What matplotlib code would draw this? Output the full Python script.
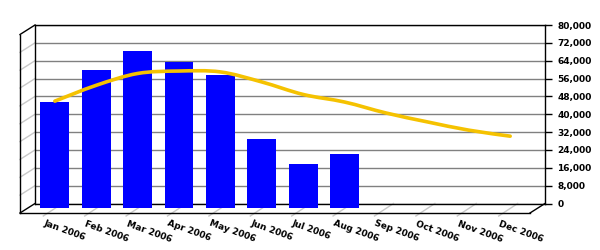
import numpy as np
import matplotlib
matplotlib.use("Agg")
import matplotlib.pyplot as plt
from matplotlib.path import Path
from matplotlib.patches import PathPatch, Polygon
from matplotlib.lines import Line2D
from matplotlib.transforms import ScaledTranslation, IdentityTransform

months = ['Jan 2006', 'Feb 2006', 'Mar 2006', 'Apr 2006', 'May 2006', 'Jun 2006',
          'Jul 2006', 'Aug 2006', 'Sep 2006', 'Oct 2006', 'Nov 2006', 'Dec 2006']
bar_values = [47600, 61800, 70400, 65400, 59600, 30900, 19700, 24200]
line_values = [48000, 55100, 60400, 61500, 61100, 56600,
               51000, 47600, 42700, 38700, 35000, 32300]
y_ticks = list(range(0, 80001, 8000))

DPI = 100
DEPTH = (-15, -9.5)   # 3d depth, pixels
MID = (DEPTH[0] / 2, DEPTH[1] / 2)

fig = plt.figure(figsize=(6, 2.5), dpi=DPI)
ax = fig.add_axes([35 / 600, (250 - 203.5) / 250, 510 / 600, 178.5 / 250])
ax.set_xlim(-0.66, 11.66)
ax.set_ylim(0, 80000)
ax.set_facecolor('white')


def shift(dx, dy):
    return ScaledTranslation(dx / DPI, dy / DPI, fig.dpi_scale_trans)


# back plane grid and right axis
ax.set_yticks(y_ticks)
ax.set_yticklabels(['{:,}'.format(v) for v in y_ticks])
ax.yaxis.tick_right()
ax.tick_params(axis='y', length=5, width=1, pad=4, labelsize=6.5, colors='black')
for t in ax.get_yticklabels():
    t.set_fontweight('bold')
ax.set_xticks([])
ax.grid(axis='y', color='#808080', linewidth=1)
ax.set_axisbelow(True)
for s in ax.spines.values():
    s.set_color('black')
    s.set_linewidth(1)


def disp(x, y, off=(0, 0), trans=None):
    trans = trans or ax.transData
    px, py = trans.transform((x, y))
    return px + off[0], py + off[1]


def seg(a, b, color, z):
    ax.add_line(Line2D([a[0], b[0]], [a[1], b[1]], color=color, lw=1,
                       transform=IdentityTransform(), clip_on=False, zorder=z))


# left wall
wall = Polygon([disp(0, 1, trans=ax.transAxes), disp(0, 0, trans=ax.transAxes),
                disp(0, 0, DEPTH, ax.transAxes), disp(0, 1, DEPTH, ax.transAxes)],
               closed=True, facecolor='white', edgecolor='none',
               transform=IdentityTransform(), clip_on=False, zorder=0.5)
ax.add_patch(wall)
x0 = ax.get_xlim()[0]
for v in y_ticks[1:-1]:
    seg(disp(x0, v), disp(x0, v, DEPTH), '#C8C8C8', 1)

# floor ticks
for i in range(len(months)):
    seg(disp(i, 0), disp(i, 0, (DEPTH[0] - 4, DEPTH[1] - 3)), '#C8C8C8', 1)

# frame edges
for a, b in [
    (disp(0, 1, trans=ax.transAxes), disp(0, 1, DEPTH, ax.transAxes)),
    (disp(0, 1, DEPTH, ax.transAxes), disp(0, 0, DEPTH, ax.transAxes)),
    (disp(0, 0, DEPTH, ax.transAxes), disp(1, 0, DEPTH, ax.transAxes)),
    (disp(1, 0, DEPTH, ax.transAxes), disp(1, 0, trans=ax.transAxes)),
    (disp(0, 0, trans=ax.transAxes), disp(0, 0, DEPTH, ax.transAxes)),
]:
    seg(a, b, 'black', 3)

# bars at mid depth, drawn over the back floor edge
x_bar = np.arange(len(bar_values))
ax.bar(x_bar, bar_values, width=0.7, color='#0000FF', linewidth=0,
       transform=ax.transData + shift(*MID), clip_on=False, zorder=3.5)

# smooth line through points (catmull-rom as bezier)
x_line = np.arange(len(line_values), dtype=float)
pts = np.column_stack([x_line, line_values])
verts = [pts[0]]
codes = [Path.MOVETO]
for i in range(len(pts) - 1):
    p0 = pts[max(i - 1, 0)]
    p1 = pts[i]
    p2 = pts[i + 1]
    p3 = pts[min(i + 2, len(pts) - 1)]
    verts += [p1 + (p2 - p0) / 6, p2 - (p3 - p1) / 6, p2]
    codes += [Path.CURVE4] * 3
ax.add_patch(PathPatch(Path(verts, codes), facecolor='none', edgecolor='#F5C200',
                       lw=2.6, capstyle='round', transform=ax.transData + shift(*MID),
                       clip_on=False, zorder=4))

# category labels
for i, m in enumerate(months):
    ax.text(i, 0, m, transform=ax.transData + shift(-17, -15.5), rotation=-20,
            rotation_mode='anchor', ha='left', va='top', fontsize=6.5,
            fontweight='bold', color='black', clip_on=False)

fig.savefig('out.png', dpi=DPI, facecolor='white')
